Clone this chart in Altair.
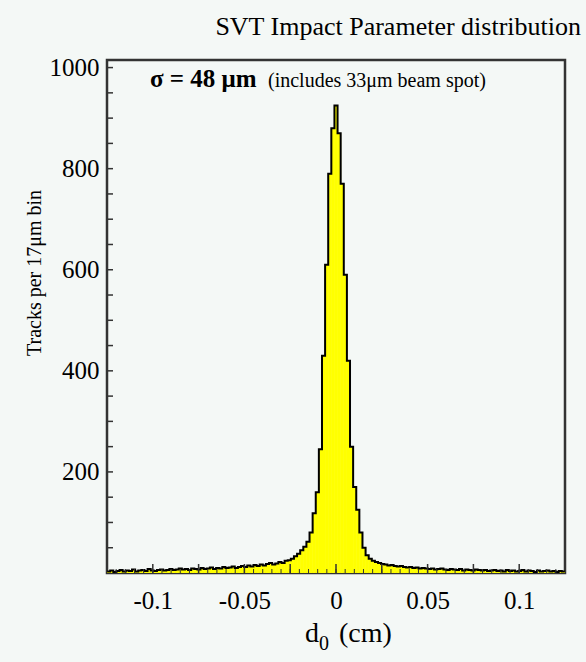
import altair as alt
import pandas as pd

# ---- data ----
bin_width = 0.0017          # 17 um bins, in cm
first_edge = -0.12495
counts = [
    # far left tail (24)
    3, 5, 2, 4, 6, 3, 5, 4, 7, 3, 5, 6, 4, 8, 5, 4, 6, 7, 5, 6, 8, 6, 7, 9,
    # (20)
    7, 8, 6, 9, 8, 7, 10, 8, 9, 11, 8, 10, 9, 12, 10, 11, 13, 10, 12, 14,
    # (14)
    12, 15, 13, 16, 14, 17, 15, 18, 20, 17, 19, 22, 20, 24,
    # (5)
    25, 28, 33, 38, 45,
    # core left (10)
    52, 62, 80, 118, 160, 245, 430, 610, 790, 880,
    # peak
    925,
    # core right (10)
    870, 770, 590, 420, 250, 170, 125, 80, 50, 35,
    # (5)
    28, 24, 22, 20, 18,
    # (14)
    17, 15, 16, 14, 13, 14, 12, 11, 12, 10, 11, 9, 10, 9,
    # (20)
    8, 9, 7, 8, 9, 7, 6, 8, 7, 6, 8, 5, 7, 6, 5, 7, 6, 5, 6, 4,
    # far right tail (24)
    5, 6, 4, 5, 3, 6, 4, 5, 3, 4, 6, 3, 5, 4, 2, 5, 3, 4, 5, 3, 4, 2, 4, 3,
]
x_label_values = [-0.1, -0.05, 0, 0.05, 0.1]
y_label_values = [200, 400, 600, 800, 1000]
x_major_ticks = [-0.1, -0.075, -0.05, -0.025, 0, 0.025, 0.05, 0.075, 0.1]
x_minor_ticks = [round(-0.12 + 0.005 * i, 3) for i in range(49)]
y_ticks = [50 * i for i in range(1, 21)]

title_text = "SVT Impact Parameter distribution"
sigma_text = "σ = 48 μm"
note_text = "(includes 33μm beam spot)"
y_title = "Tracks per 17μm bin"

# ---- tables ----
lefts = [first_edge + i * bin_width for i in range(len(counts))]
hist = pd.DataFrame({"left": lefts,
                     "right": [l + bin_width for l in lefts],
                     "count": counts,
                     "base": [0] * len(counts)})
step = pd.DataFrame({"x": lefts + [lefts[-1] + bin_width],
                     "count": counts + [counts[-1]]})

W, H = 458, 513
FONT = "Liberation Serif"
xs = alt.Scale(domain=[-0.125, 0.125], nice=False, zero=False)
ys = alt.Scale(domain=[0, 1015], nice=False, zero=False)

bars = alt.Chart(hist).mark_rect(fill="#ffff00", stroke="#ffff00", strokeWidth=0.6, clip=True).encode(
    x=alt.X("left:Q", scale=xs, axis=alt.Axis(
        values=x_label_values, domain=False, ticks=False, grid=False, title=None,
        labelFont=FONT, labelFontSize=25, labelColor="black", labelPadding=15,
        labelExpr="datum.value == 0 ? '0' : (datum.value < 0 ? '-' : '') + format(abs(datum.value), '')")),
    x2="right:Q",
    y=alt.Y("count:Q", scale=ys, axis=alt.Axis(
        values=y_label_values, domain=False, ticks=False, grid=False, title=None,
        format="d",
        labelFont=FONT, labelFontSize=25, labelColor="black", labelPadding=8)),
    y2="base:Q",
)

outline = alt.Chart(step).mark_line(interpolate="step-after", color="black",
                                     strokeWidth=2, clip=True).encode(
    x=alt.X("x:Q", scale=xs), y=alt.Y("count:Q", scale=ys))

xmaj = alt.Chart(pd.DataFrame({"v": x_major_ticks})).mark_rule(color="#333", strokeWidth=1.5).encode(
    x=alt.X("v:Q", scale=xs), y=alt.value(H), y2=alt.value(H - 9))
xmin = alt.Chart(pd.DataFrame({"v": x_minor_ticks})).mark_rule(color="#333", strokeWidth=1).encode(
    x=alt.X("v:Q", scale=xs), y=alt.value(H), y2=alt.value(H - 4))
ytk = alt.Chart(pd.DataFrame({"v": y_ticks})).mark_rule(color="#333", strokeWidth=1.5).encode(
    y=alt.Y("v:Q", scale=ys), x=alt.value(0), x2=alt.value(6))

def txt(t, x, y, size, weight="normal", angle=0, align="center", baseline="alphabetic"):
    kw = dict(text=t, font=FONT, fontSize=size, fontWeight=weight, color="black",
              align=align, baseline=baseline)
    if angle:
        kw["angle"] = angle
    return alt.Chart(pd.DataFrame({"a": [0]})).mark_text(**kw).encode(
        x=alt.value(x), y=alt.value(y))

title = txt(title_text, 474, -25, 26, align="right")
sigma = txt(sigma_text, 43, 27, 25, weight="bold", align="left")
note = txt(note_text, 161, 27, 20, align="left")
ytitle = txt(y_title, -72, 213, 20, angle=270, baseline="middle")
xt_d = txt("d", 198, 582, 28, align="left")
xt_0 = txt("0", 212, 590, 20, align="left")
xt_cm = txt("(cm)", 232, 582, 28, align="left")

chart = alt.layer(bars, outline, xmin, xmaj, ytk, title, sigma, note, ytitle, xt_d, xt_0, xt_cm).properties(
    width=W, height=H,
    autosize=alt.AutoSizeParams(type="none"),
    padding={"left": 107, "top": 60, "right": 21, "bottom": 89},
    background="#f4f8f6",
).configure_view(stroke="#333333", strokeWidth=2.5)

chart.save("out.html", embed_options={"renderer": "svg", "actions": False})
